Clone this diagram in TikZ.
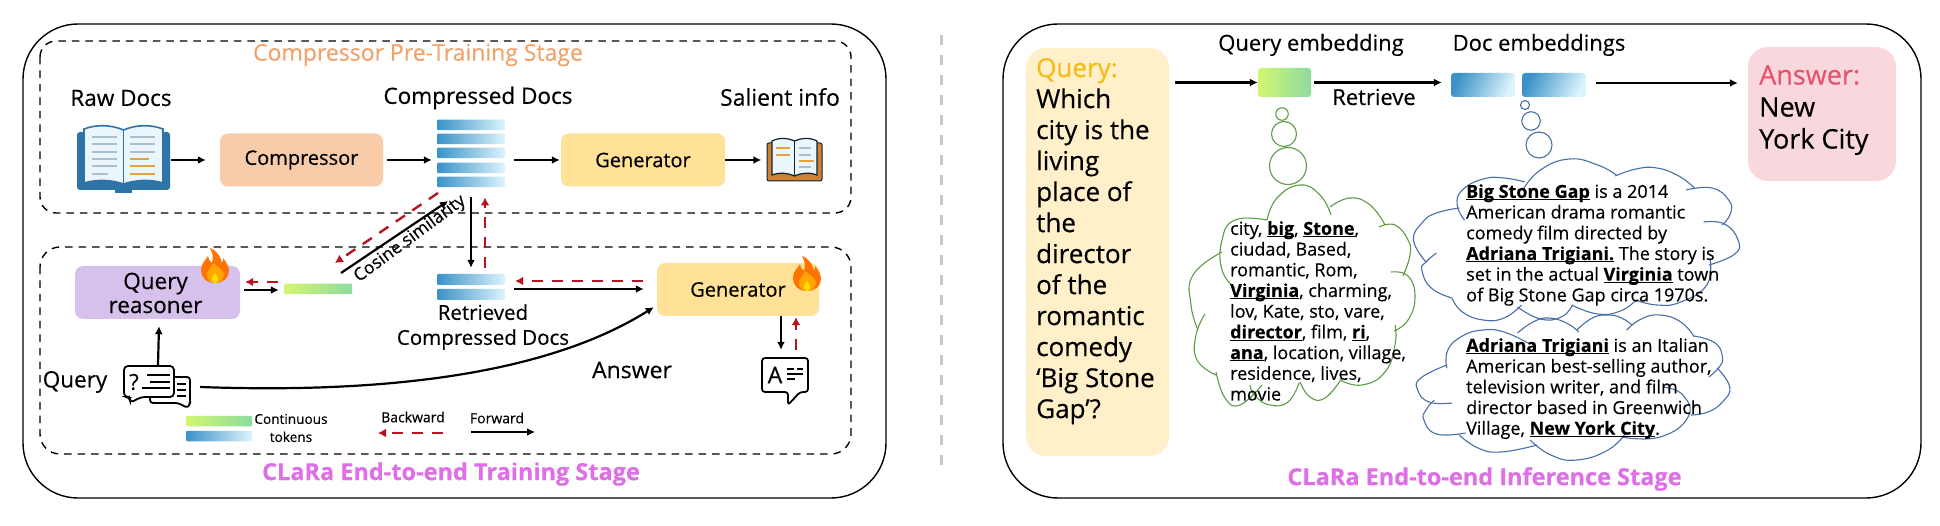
\documentclass[tikz,border=0pt]{standalone}
\usepackage{fontspec}
\setmainfont{Open Sans}[FakeBold=0.35]
\usetikzlibrary{arrows.meta,positioning,shapes.geometric}
\definecolor{cOrange}{HTML}{F0A46C}
\definecolor{cPink}{HTML}{DE6FE6}
\definecolor{cComp}{HTML}{F8CBA9}
\definecolor{cGen}{HTML}{FFE298}
\definecolor{cReason}{HTML}{D6C1EC}
\definecolor{cRed}{HTML}{B81420}
\definecolor{cQ}{HTML}{FFF0C9}
\definecolor{cQt}{HTML}{F6BB14}
\definecolor{cA}{HTML}{F9D8DD}
\definecolor{cAt}{HTML}{E6536E}
\definecolor{cGreenL}{HTML}{5E9B45}
\definecolor{cBlueL}{HTML}{4A6FA8}
\definecolor{cBookB}{HTML}{2F74A6}
\definecolor{cBookP}{HTML}{EAF6FB}
\definecolor{cBookL}{HTML}{A9BFCB}
\definecolor{cBookO}{HTML}{E9A23B}
\definecolor{cBarD}{HTML}{3A92C8}
\definecolor{cBarM}{HTML}{7CCBF0}
\definecolor{cBarL}{HTML}{DDF4FC}
\definecolor{cGrA}{HTML}{D2F672}
\definecolor{cGrB}{HTML}{8EDB9E}
\newcommand{\fsz}[2]{\fontsize{#1}{#2}\selectfont}
\newcommand{\ulb}[1]{\setbox0\hbox{\bfseries #1}\rlap{\rule[-2.2pt]{\wd0}{0.9pt}}\box0\relax}
\tikzset{
  panel/.style={draw=black,line width=1.4pt,rounded corners=55pt},
  dashbox/.style={draw=black,line width=1.4pt,dash pattern=on 7.5pt off 6pt,rounded corners=16pt},
  fwd/.style={draw=black,line width=2.2pt,-{Latex[length=8pt,width=8pt]}},
  back/.style={draw=cRed,line width=2.4pt,dash pattern=on 11pt off 9pt,-{Latex[length=8pt,width=9pt]}},
  fbox/.style={inner sep=0pt,rounded corners=8pt,font=\fsz{20}{24}},
  lbl/.style={inner sep=0pt,font=\fsz{22.5}{28}},
  small/.style={inner sep=0pt,font=\fsz{14}{17}},
  ttl/.style={inner sep=0pt,font=\fsz{23}{28}},
  ttlb/.style={inner sep=0pt,font=\bfseries\fsz{23.5}{28},text=cPink},
  bluebar/.style={inner sep=0pt,left color=cBarD,middle color=cBarM,right color=cBarL,rounded corners=1pt},
  greenbar/.style={inner sep=0pt,left color=cGrA,right color=cGrB,rounded corners=1pt},
  cloudtxt/.style={inner sep=0pt,anchor=north west,align=left,font=\fsz{18}{20.7}},
  bigtxt/.style={inner sep=0pt,anchor=north west,align=left,font=\fsz{26}{31}},
  lobeg/.style={draw=cGreenL,line width=1.1pt},
  lobeb/.style={draw=cBlueL,line width=1.1pt},
  flame/.pic={
    \fill[orange!90!red] (0,17) .. controls (-9,17) and (-14,11) .. (-14,4) .. controls (-14,-3) and (-9,-6) .. (-7,-10) .. controls (-6,-6) and (-5,-4) .. (-3,-3) .. controls (-1,-9) and (-3,-14) .. (-5,-18) .. controls (3,-15) and (6,-8) .. (7,-3) .. controls (8,-5) and (8,-7) .. (8,-8) .. controls (12,-3) and (14,1) .. (14,5) .. controls (14,12) and (8,17) .. (0,17) -- cycle;
    \fill[orange!70!yellow] (0,17) .. controls (-6,17) and (-9,12) .. (-8,7) .. controls (-7,3) and (-4,2) .. (-2,-3) .. controls (2,1) and (8,3) .. (9,8) .. controls (9,13) and (5,17) .. (0,17) -- cycle;
    \fill[yellow!85!orange] (0,17) .. controls (-4,17) and (-4,11) .. (0,7) .. controls (4,11) and (4,17) .. (0,17) -- cycle;
  }
}
\begin{document}
\begin{tikzpicture}[x=1pt,y=-1pt]
\useasboundingbox (0,0) rectangle (1940,526);
\fill[white] (0,0) rectangle (1940,526);
% panels
\draw[panel] (23,24) rectangle (886,498);
\draw[panel] (1003,24) rectangle (1921,498);
\draw[dashbox] (40,41) rectangle (851,213);
\draw[dashbox,rounded corners=20pt] (40,247) rectangle (851,454);
\coordinate (sepTop) at (941,35);
\coordinate (sepBot) at (941,467);
\draw[draw=black!22,line width=3pt,dash pattern=on 10pt off 10pt] (sepTop) -- (sepBot);
% titles
\node[ttl,text=cOrange] (t1) at (418,55) {Compressor Pre-Training Stage};
\node[ttlb] (t2) at (451,474) {CLaRa End-to-end Training Stage};
\node[ttlb] (t3) at (1484.5,479) {CLaRa End-to-end Inference Stage};
% labels
\node[lbl] (lRaw) at (121,98) {Raw Docs};
\node[lbl] (lCD) at (478,98) {Compressed Docs};
\node[lbl,font=\fsz{23}{28}] (lSal) at (780,97) {Salient info};
% raw book
\node[inner sep=0pt,minimum width=93pt,minimum height=66pt] (book) at (123.5,160) {};
\fill[cBookB,rounded corners=3pt] (77,132) rectangle (170,190);
\fill[cBookB] (115,189) rectangle (132,193);
\draw[cBookB,line width=1.6pt,fill=cBookP] (84,183) -- (84,129) .. controls (97,124) and (112,125) .. (123.5,130) .. controls (135,125) and (150,124) .. (163,129) -- (163,183) .. controls (150,179) and (135,180) .. (123.5,184) .. controls (112,180) and (97,179) .. (84,183) -- cycle;
\draw[cBookB,line width=1.6pt] (123.5,130) -- (123.5,184);
\foreach \yy in {137,144,152,159,166} \draw[cBookL,line width=1.6pt] (92,\yy) -- (117,\yy);
\draw[cBookL,line width=1.6pt] (92,174) -- (108,174);
\foreach \yy in {137,144,152} \draw[cBookL,line width=1.6pt] (130,\yy) -- (155,\yy);
\draw[cBookO,line width=1.6pt] (130,159) -- (149,159);
\foreach \yy in {166,174} \draw[cBookO,line width=1.6pt] (130,\yy) -- (155,\yy);
% compressor row
\node[fbox,fill=cComp,minimum width=163pt,minimum height=53pt] (comp) at (301.5,160) {Compressor};
\node[inner sep=0pt,minimum width=68pt,minimum height=67pt] (docs) at (471,153.5) {};
\foreach \nm/\yy in {da/125,db/139,dc/153,dd/168,de/182}
  \node[bluebar,minimum width=68pt,minimum height=10.5pt] (\nm) at (471,\yy) {};
\node[fbox,fill=cGen,minimum width=164pt,minimum height=53pt] (gen) at (643,160) {Generator};
% small book
\node[inner sep=0pt,minimum width=56pt,minimum height=44pt] (sbook) at (794.5,159) {};
\fill[draw=black!70!cBookB,fill=brown!75!orange,line width=1pt,rounded corners=2pt] (767,143) rectangle (822,181);
\draw[black!70!cBookB,line width=1.2pt,fill=cBookP] (772,175) -- (772,141) .. controls (780,137) and (788,138) .. (794.5,141) .. controls (801,138) and (809,137) .. (817,141) -- (817,175) .. controls (809,172) and (801,173) .. (794.5,176) .. controls (788,173) and (780,172) .. (772,175) -- cycle;
\draw[black!70!cBookB,line width=1.2pt] (794.5,141) -- (794.5,176);
\foreach \yy in {148,155} \draw[cBookO,line width=1.4pt] (776,\yy) -- (790,\yy);
\foreach \yy in {148,155,167} \draw[cBookL,line width=1.4pt] (799,\yy) -- (811,\yy);
\draw[cBookO,line width=1.4pt] (799,161) -- (814,161);
\draw[fwd] ([xshift=1]book.east) -- ([xshift=-14]comp.west);
\draw[fwd] ([xshift=4]comp.east) -- ([xshift=-5,yshift=-6.5]docs.west);
\draw[fwd] ([xshift=9,yshift=-6.5]docs.east) -- ([xshift=-1]gen.west);
\draw[fwd] (gen.east) -- ([xshift=-5,yshift=-1]sbook.west);
% reasoner row
\node[fbox,fill=cReason,minimum width=165pt,minimum height=53pt] (reason) at (157.5,292.5) {};
\node[inner sep=0pt,align=center,font=\fsz{22.5}{24}] (reasonT) at (155.5,293) {Query\\reasoner};
\pic at (215,266) {flame};
\node[greenbar,minimum width=68pt,minimum height=10.5pt] (qb) at (318,289) {};
\node[bluebar,minimum width=68pt,minimum height=11pt] (rb1) at (471,279.5) {};
\node[bluebar,minimum width=68pt,minimum height=11pt] (rb2) at (471,294.5) {};
\node[inner sep=0pt,minimum width=68pt,minimum height=26pt] (rdocs) at (471,287) {};
\node[inner sep=0pt,align=center,font=\fsz{20.5}{25}] (lRet) at (483,327) {Retrieved\\Compressed Docs};
\node[fbox,fill=cGen,minimum width=162pt,minimum height=53pt] (gen2) at (738,289.5) {Generator};
\pic at (807,274) {flame};
\draw[back] ([xshift=-6,yshift=7]qb.west) -- ([xshift=5,yshift=10.5]reason.east);
\draw[fwd] ([xshift=4,yshift=2.5]reason.east) -- ([xshift=-5,yshift=-1]qb.west);
\draw[back] ([xshift=-14,yshift=8.5]gen2.west) -- ([xshift=10,yshift=6]rdocs.east);
\draw[fwd] ([xshift=9,yshift=-2]rdocs.east) -- ([xshift=-13,yshift=0.5]gen2.west);
% vertical between stacks
\coordinate (cvA) at (471,197);
\coordinate (cvB) at (485,268);
\draw[fwd] (cvA) -- ([yshift=6]rb1.north -| cvA);
\draw[back] (cvB) -- ([yshift=-10]de.south -| cvB);
% cosine
\coordinate (cosA) at (341,273);
\coordinate (cosB) at (448,201);
\coordinate (cosC) at (438,193);
\coordinate (cosD) at (335,263);
\draw[fwd] (cosA) -- (cosB);
\draw[back] (cosC) -- (cosD);
\node[inner sep=0pt,rotate=36.5,font=\fsz{17.5}{20}] (cos) at (410,239) {Cosine similarity};
% query
\node[lbl] (lQ) at (75,382) {Query};
\node[inner sep=0pt,minimum width=68pt,minimum height=44pt] (qicon) at (157,387) {};
\draw[black,line width=1.8pt,fill=white,rounded corners=3pt] (150,396) -- (150,403) -- (178,403) -- (188,408) -- (190,403) -- (190,377) -- (170,377);
\draw[black,line width=1.8pt,fill=white,rounded corners=4pt] (124,366) -- (174,366) -- (174,397) -- (141,397) -- (130,403) -- (130,397) -- (124,397) -- cycle;
\node[inner sep=0pt,font=\fsz{22}{24}] (qm) at (134,382) {?};
\foreach \xa/\yy in {147/375,150/382,142/388} \draw[black,line width=1.6pt] (\xa,\yy) -- (170,\yy);
\foreach \yy in {384,390,396} \draw[black,line width=1.6pt] (177,\yy) -- (186,\yy);
\draw[fwd] ([xshift=1]qicon.north) -- ([xshift=1.5,yshift=-7]reason.south);
\draw[line width=2.2pt,-{Latex[length=8pt,width=8pt]}] ([xshift=9]qicon.east) .. controls (340,392) and (530,385) .. ([xshift=-3,yshift=9]gen2.south west);
\node[lbl,font=\fsz{23}{28}] (lAns) at (632,370) {Answer};
% answer icon
\node[inner sep=0pt,minimum width=47pt,minimum height=47pt] (aicon) at (785.5,381.5) {};
\draw[black,line width=1.8pt,fill=white,rounded corners=3pt] (762,358) -- (808,358) -- (808,392) -- (800,392) -- (788,405) -- (788,392) -- (762,392) -- cycle;
\node[inner sep=0pt,font=\fsz{23}{25}] (aA) at (775,375) {A};
\draw[black,line width=1.1pt] (787,369) -- (794,369) (797,369) -- (803,369) (787,374) -- (803,374) (787,379) -- (795,379);
\draw[fwd] ([xshift=43]gen2.south) -- ([xshift=-4.5,yshift=8]aicon.north);
\draw[back] ([xshift=10.5,yshift=8]aicon.north) -- ([xshift=58,yshift=-1]gen2.south);
% legend
\node[greenbar,minimum width=66pt,minimum height=10.5pt] (lg1) at (219,421) {};
\node[bluebar,minimum width=66pt,minimum height=10.5pt] (lg2) at (219,436) {};
\node[small,font=\fsz{13.6}{17}] (lgT) at (291,429.5) {\begin{tabular}{@{}c@{}}Continuous\\[1pt]tokens\end{tabular}};
\node[small] (lgB) at (413,417) {Backward};
\node[small] (lgF) at (497,418) {Forward};
\coordinate (bkA) at (443,433);
\coordinate (bkB) at (378,433);
\coordinate (fwA) at (471,432);
\coordinate (fwB) at (535,432);
\draw[back,line width=2.2pt] (bkA) -- (bkB);
\draw[fwd] (fwA) -- (fwB);
% right panel
\node[fill=cQ,inner sep=0pt,rounded corners=20pt,minimum width=143pt,minimum height=408pt] (qbox) at (1097.5,252) {};
\node[bigtxt] (qtext) at (1036,58) {\textcolor{cQt}{Query:}\\Which\\city is the\\living\\place of\\the\\director\\of the\\romantic\\comedy\\‘Big Stone\\Gap’?};
\node[fill=cA,inner sep=0pt,rounded corners=20pt,minimum width=148pt,minimum height=134pt] (abox) at (1822,114) {};
\node[bigtxt,font=\fsz{27}{32}] (atext) at (1759,65) {\textcolor{cAt}{Answer:}\\New\\York City};
\node[lbl,font=\fsz{22}{28}] (lQE) at (1311,45) {Query embedding};
\node[lbl,font=\fsz{22}{28}] (lDE) at (1539,45) {Doc embeddings};
\node[lbl,font=\fsz{22}{26}] (lRt) at (1374,97) {Retrieve};
\node[greenbar,rounded corners=3pt,minimum width=53pt,minimum height=29pt] (qe) at (1284.5,82.5) {};
\node[bluebar,rounded corners=3pt,shading angle=65,minimum width=64pt,minimum height=24pt] (de1) at (1483,85) {};
\node[bluebar,rounded corners=3pt,shading angle=65,minimum width=64pt,minimum height=24pt] (de2) at (1554,85) {};
\draw[fwd] ([xshift=6,yshift=169.5]qbox.east) -- (qe.west);
\draw[fwd] ([xshift=3]qe.east) -- ([xshift=-9,yshift=2.5]de1.west);
\draw[fwd] ([xshift=10,yshift=2]de2.east) -- ([xshift=-10,yshift=31]abox.west);
% thought circles
\node[draw=cGreenL,line width=1.1pt,circle,inner sep=0pt,minimum size=12.5pt] (gc1) at (1282,114) {};
\node[draw=cGreenL,line width=1.1pt,circle,inner sep=0pt,minimum size=25pt] (gc2) at (1284,134) {};
\node[draw=cGreenL,line width=1.1pt,circle,inner sep=0pt,minimum size=37pt] (gc3) at (1288,166) {};
\node[draw=cBlueL,line width=1.1pt,circle,inner sep=0pt,minimum size=9pt] (bc1) at (1525,105) {};
\node[draw=cBlueL,line width=1.1pt,circle,inner sep=0pt,minimum size=18.5pt] (bc2) at (1531,121) {};
\node[draw=cBlueL,line width=1.1pt,circle,inner sep=0pt,minimum size=26pt] (bc3) at (1539,145) {};
% green cloud
\foreach \pts in {
 {(1267,220) (1277,198) (1300,185) (1320,195) (1331,215)},
 {(1330,207) (1350,198) (1370,205) (1385,225)},
 {(1379,227) (1395,225) (1408,240) (1410,255) (1403,276)},
 {(1391,272) (1408,276) (1415,297) (1408,320) (1394,331)},
 {(1395,325) (1395,345) (1385,372) (1362,385) (1340,380)},
 {(1342,378) (1325,398) (1310,397) (1300,382)},
 {(1299,383) (1288,402) (1270,405) (1255,396) (1250,385)},
 {(1262,385) (1240,405) (1225,398) (1216,372)},
 {(1216,375) (1197,360) (1196,335) (1205,314)},
 {(1198,330) (1191,305) (1193,275) (1222,252)},
 {(1235,288) (1222,270) (1222,240) (1235,220) (1267,220)}}
 \draw[lobeg] plot[smooth,tension=0.8] coordinates \pts;
\begin{scope}[xshift=-56pt,xscale=1.04]
% blue cloud 1
\foreach \pts in {
 {(1518,190) (1535,170) (1563,159) (1590,165) (1608,175)},
 {(1607,176) (1627,169) (1647,168) (1668,176) (1683,188)},
 {(1675,190) (1700,188) (1716,200) (1718,213) (1710,225)},
 {(1692,222) (1712,224) (1725,240) (1722,254) (1697,265)},
 {(1698,258) (1695,285) (1670,302) (1647,305) (1627,300)},
 {(1627,300) (1612,311) (1590,314) (1565,305)},
 {(1566,305) (1555,317) (1535,319) (1513,307)},
 {(1517,305) (1500,318) (1480,320) (1460,312) (1450,298)},
 {(1450,298) (1430,288) (1421,270) (1425,262) (1435,253)},
 {(1425,262) (1413,240) (1422,222) (1435,213) (1457,208)},
 {(1462,220) (1455,205) (1460,190) (1480,179) (1500,178) (1520,182)}}
 \draw[lobeb] plot[smooth,tension=0.8] coordinates \pts;
% blue cloud 2
\foreach \pts in {
 {(1513,333) (1528,322) (1543,318) (1560,323) (1572,332)},
 {(1570,330) (1585,318) (1600,315) (1613,318) (1623,325)},
 {(1618,330) (1632,319) (1650,315) (1670,322) (1683,337)},
 {(1683,336) (1703,343) (1710,357) (1707,367) (1697,377)},
 {(1705,368) (1717,387) (1710,402) (1696,412) (1680,415)},
 {(1653,387) (1672,395) (1677,417) (1650,437) (1613,437)},
 {(1617,433) (1600,450) (1570,460) (1545,455) (1525,440)},
 {(1532,445) (1497,452) (1475,448) (1457,435)},
 {(1463,433) (1435,434) (1423,420) (1425,410) (1433,400)},
 {(1450,403) (1428,402) (1417,390) (1420,378) (1445,365)},
 {(1445,368) (1446,350) (1460,336) (1480,330) (1500,332) (1523,343)}}
 \draw[lobeb] plot[smooth,tension=0.8] coordinates \pts;
\end{scope}
% cloud texts
\node[cloudtxt] (gt) at (1230,221) {city, \ulb{big}, \ulb{Stone},\\ciudad, Based,\\romantic, Rom,\\\ulb{Virginia}, charming,\\lov, Kate, sto, vare,\\\ulb{director}, film, \ulb{ri},\\\ulb{ana}, location, village,\\residence, lives,\\movie};
\node[cloudtxt] (bt1) at (1466,184) {\ulb{Big Stone Gap} is a 2014\\American drama romantic\\comedy film directed by\\\ulb{Adriana Trigiani.} The story is\\set in the actual \ulb{Virginia} town\\of Big Stone Gap circa 1970s.};
\node[cloudtxt] (bt2) at (1466,338) {\ulb{Adriana Trigiani} is an Italian\\American best-selling author,\\television writer, and film\\director based in Greenwich\\Village, \ulb{New York City}.};
\end{tikzpicture}
\end{document}
